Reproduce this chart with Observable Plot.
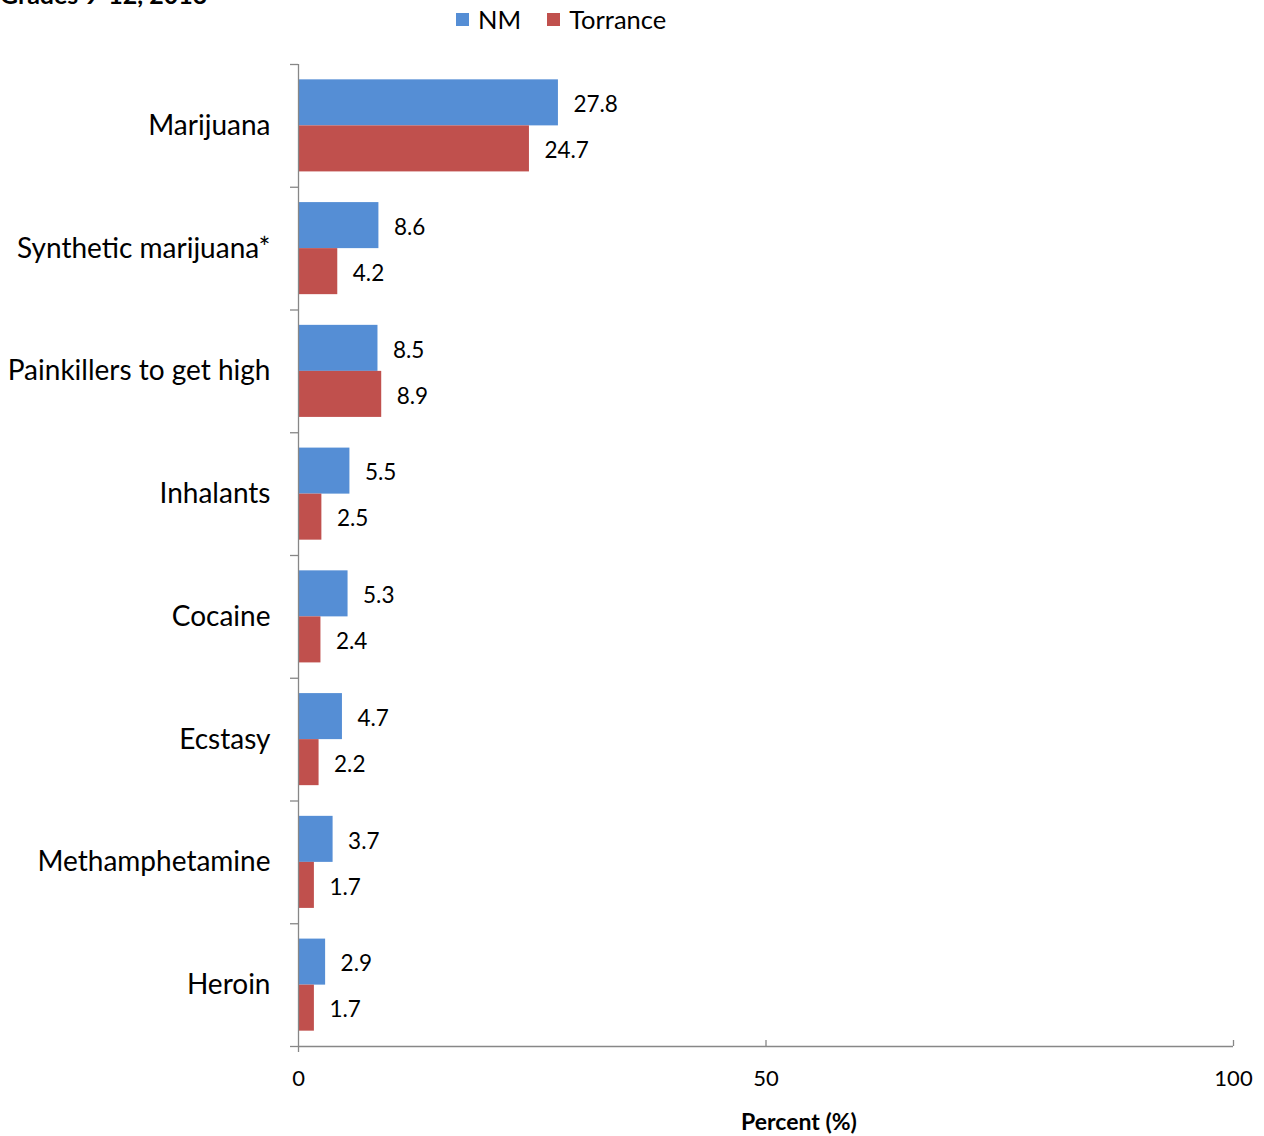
<!DOCTYPE html>
<html>
<head>
<meta charset="utf-8">
<script src="https://cdn.jsdelivr.net/npm/d3@7"></script>
<script src="https://cdn.jsdelivr.net/npm/@observablehq/plot@0.6"></script>
<style>
  html, body { margin: 0; padding: 0; background: #fff; }
  #wrap { position: relative; width: 1264px; height: 1136px; overflow: hidden; font-family: Lato, "Open Sans", sans-serif; }
  #title { position: absolute; left: 0; top: -21px; font-size: 25px; font-weight: bold; color: #000; white-space: nowrap; }
  #legend { position: absolute; left: 456px; top: 4px; display: flex; align-items: center; font-size: 25.5px; color: #000; }
  #legend .item { display: flex; align-items: center; margin-right: 26px; }
  #legend .sw { width: 13px; height: 13px; margin-right: 9px; }
  #chart { position: absolute; left: 0; top: 0; }
</style>
</head>
<body>
<div id="wrap">
  <div id="title">Grades 9-12, 2013</div>
  <div id="legend"></div>
  <div id="chart"></div>
</div>
<script>
const categories = ["Marijuana", "Synthetic marijuana*", "Painkillers to get high", "Inhalants", "Cocaine", "Ecstasy", "Methamphetamine", "Heroin"];
const series = ["NM", "Torrance"];
const nmValues = [27.8, 8.6, 8.5, 5.5, 5.3, 4.7, 3.7, 2.9];
const torranceValues = [24.7, 4.2, 8.9, 2.5, 2.4, 2.2, 1.7, 1.7];
const xTicks = [0, 50, 100];
const colors = ["#558ED5", "#C0504D"];
const axisTitle = "Percent (%)";

const rows = categories.map((c, i) => ({category: c, index: i, NM: nmValues[i], Torrance: torranceValues[i]}));

// legend
const legend = document.getElementById("legend");
series.forEach((s, i) => {
  const it = document.createElement("div");
  it.className = "item";
  const sw = document.createElement("div");
  sw.className = "sw";
  sw.style.background = colors[i];
  const t = document.createElement("span");
  t.textContent = s;
  it.appendChild(sw); it.appendChild(t);
  legend.appendChild(it);
});

const axisColor = "#878787";
const font = "Lato, 'Open Sans', sans-serif";

const chart = Plot.plot({
  width: 1264,
  height: 1136,
  marginTop: 64,
  marginBottom: 90,
  marginLeft: 298,
  marginRight: 31,
  style: {fontFamily: font, background: "transparent", overflow: "visible"},
  x: {domain: [0, 100], axis: null},
  y: {domain: [0, categories.length], reverse: true, axis: null},
  marks: [
    Plot.rect(rows, {x1: 0, x2: "NM", y1: d => d.index + 0.125, y2: d => d.index + 0.5, fill: colors[0]}),
    Plot.rect(rows, {x1: 0, x2: "Torrance", y1: d => d.index + 0.5, y2: d => d.index + 0.875, fill: colors[1]}),
    Plot.text(rows, {x: "NM", y: d => d.index + 0.3125, text: d => d.NM.toFixed(1), dx: 15, dy: 2, textAnchor: "start", fontSize: 22.5, fill: "#000"}),
    Plot.text(rows, {x: "Torrance", y: d => d.index + 0.6875, text: d => d.Torrance.toFixed(1), dx: 15, dy: 2, textAnchor: "start", fontSize: 22.5, fill: "#000"}),
    Plot.text(rows, {x: 0, y: d => d.index + 0.5, text: "category", dx: -28, textAnchor: "end", fontSize: 28, fill: "#000"}),
    // y axis line and boundary ticks
    Plot.ruleX([0], {y1: 0, y2: categories.length, insetBottom: -6, stroke: axisColor, strokeWidth: 1.3}),
    Plot.ruleY(d3.range(categories.length + 1), {x1: 0, x2: 0, insetLeft: -8, stroke: axisColor, strokeWidth: 1.3}),
    // x axis line and ticks
    Plot.ruleY([categories.length], {x1: 0, x2: 100, stroke: axisColor, strokeWidth: 1.3}),
    Plot.ruleX(xTicks.slice(1), {y1: categories.length, y2: categories.length, insetTop: -6, stroke: axisColor, strokeWidth: 1.3}),
    Plot.text(xTicks, {x: d => d, y: categories.length, dy: 32, text: d => String(d), fontSize: 22, fill: "#000"}),
    Plot.text([axisTitle], {x: 50, y: categories.length, dx: 33, dy: 76, text: d => d, fontSize: 23, fontWeight: "bold", fill: "#000"})
  ]
});
document.getElementById("chart").appendChild(chart);
</script>
</body>
</html>
